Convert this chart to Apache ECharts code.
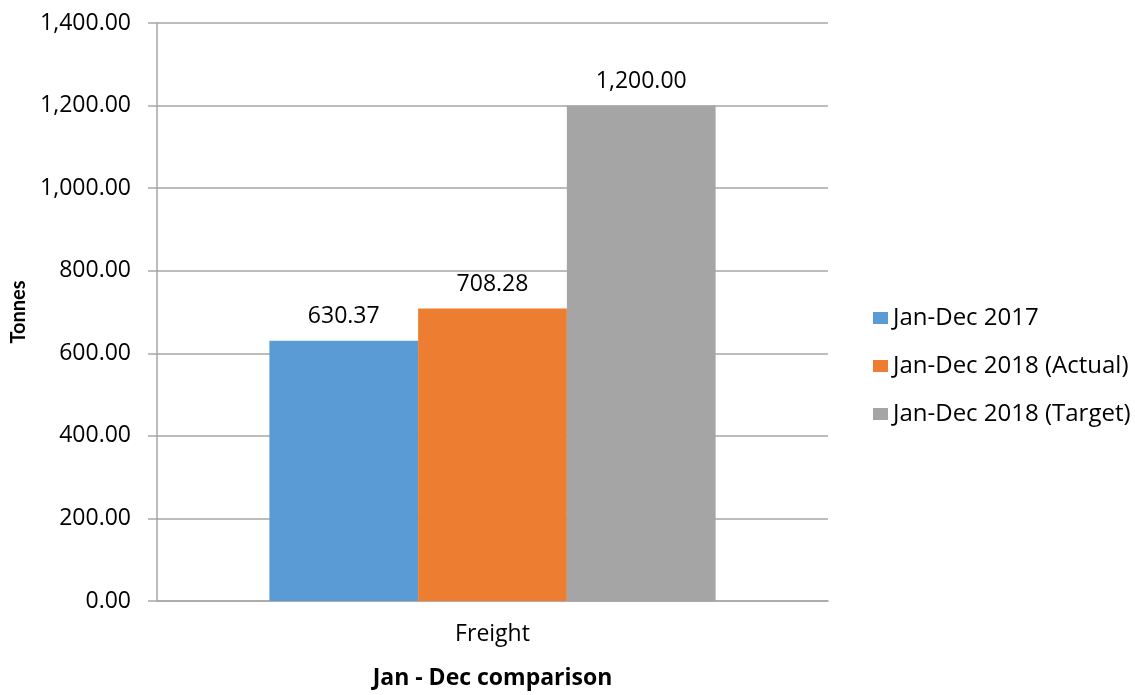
<!DOCTYPE html>
<html>
<head>
<meta charset="utf-8">
<script src="https://cdn.jsdelivr.net/npm/echarts@6/dist/echarts.min.js"></script>
<style>
  html, body { margin: 0; padding: 0; background: #fff; }
  #chart { width: 1135px; height: 695px; }
</style>
</head>
<body>
<div id="chart"></div>
<script>
const categories = ['Freight'];
const seriesNames = ['Jan-Dec 2017', 'Jan-Dec 2018 (Actual)', 'Jan-Dec 2018 (Target)'];
const values2017 = [630.37];
const values2018Actual = [708.28];
const values2018Target = [1200.00];
const seriesColors = ['#5B9BD5', '#ED7D31', '#A5A5A5'];

const FONT = '"Open Sans", Lato, sans-serif';
const NAME_FONT = 'Lato, "Open Sans", sans-serif';
const fmt = v => Number(v).toLocaleString('en-US', { minimumFractionDigits: 2, maximumFractionDigits: 2 });

const seriesData = [values2017, values2018Actual, values2018Target];

const chart = echarts.init(document.getElementById('chart'), null, { renderer: 'canvas' });
chart.setOption({
  animation: false,
  backgroundColor: '#ffffff',
  textStyle: { fontFamily: FONT },
  grid: { left: 157, right: 307, top: 23, bottom: 88, containLabel: false },
  legend: {
    orient: 'vertical',
    left: 868,
    top: 301,
    itemWidth: 15,
    itemHeight: 12,
    itemGap: 24,
    icon: 'rect',
    textStyle: { fontFamily: FONT, fontSize: 24, color: '#000' },
    data: seriesNames
  },
  xAxis: {
    type: 'category',
    data: categories,
    name: 'Jan - Dec comparison',
    nameLocation: 'middle',
    nameGap: 66,
    nameTextStyle: { fontFamily: FONT, fontSize: 23, fontWeight: 'bold', color: '#000' },
    axisLine: { lineStyle: { color: '#A6A6A6', width: 1.5 } },
    axisTick: { show: false },
    axisLabel: { fontFamily: FONT, fontSize: 23, color: '#000', margin: 22 }
  },
  yAxis: {
    type: 'value',
    min: 0,
    max: 1400,
    interval: 200,
    name: 'Tonnes',
    nameLocation: 'middle',
    nameGap: 128,
    nameRotate: 90,
    nameTextStyle: { fontFamily: NAME_FONT, fontSize: 20, fontWeight: 'bold', color: '#000' },
    axisLine: { show: true, lineStyle: { color: '#A6A6A6', width: 1.5 } },
    axisTick: { show: true, length: 9, lineStyle: { color: '#A6A6A6', width: 1.5 } },
    splitLine: { lineStyle: { color: '#A6A6A6', width: 1.5 } },
    axisLabel: { fontFamily: FONT, fontSize: 23, color: '#000', margin: 26, formatter: fmt }
  },
  series: seriesNames.map((name, i) => ({
    name,
    type: 'bar',
    data: seriesData[i],
    barGap: '0%',
    barCategoryGap: '33.5%',
    itemStyle: { color: seriesColors[i] },
    label: {
      show: true,
      position: 'top',
      distance: 13,
      fontFamily: FONT,
      fontSize: 23,
      color: '#000',
      formatter: p => fmt(p.value)
    }
  }))
});
</script>
</body>
</html>
